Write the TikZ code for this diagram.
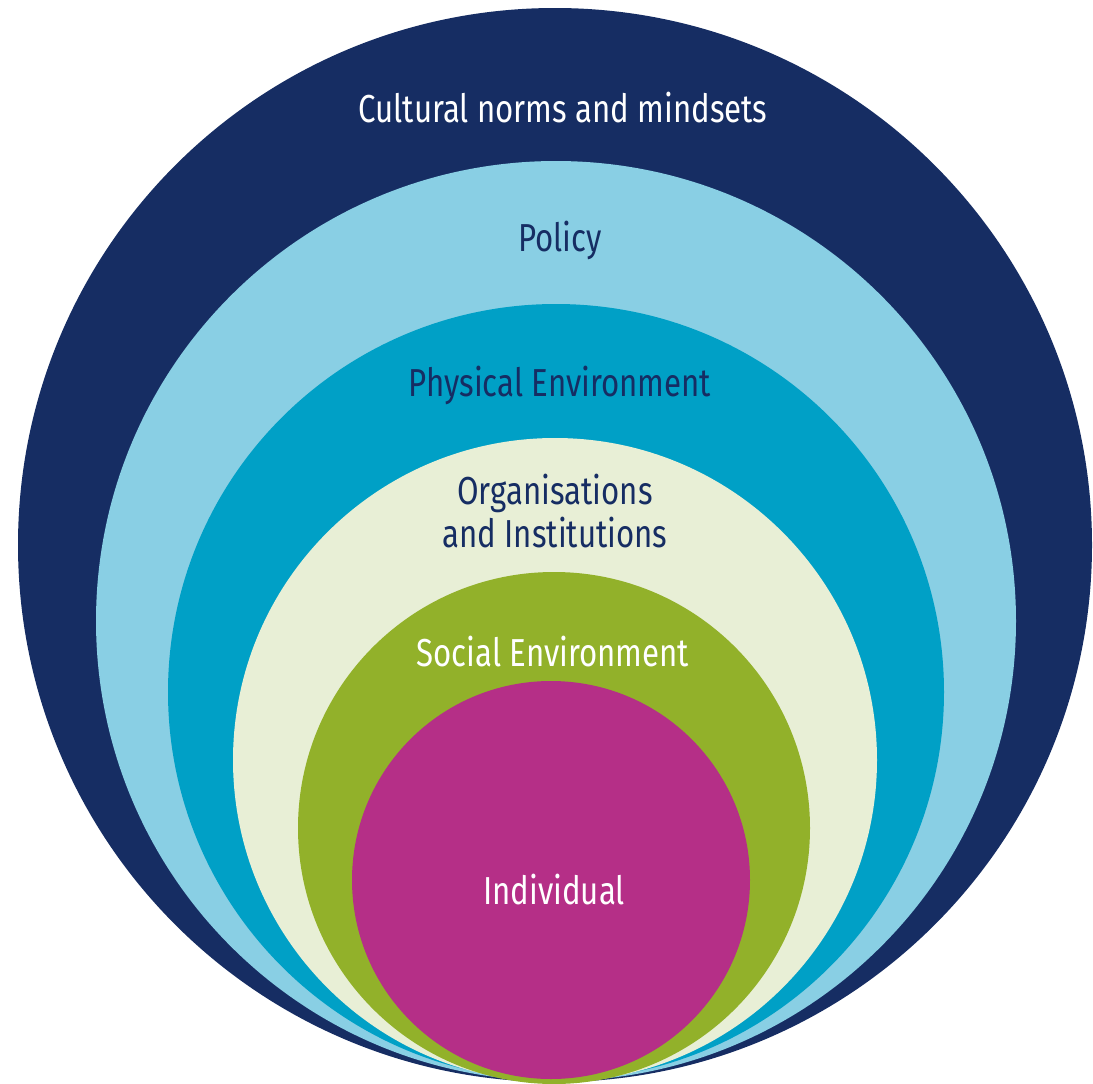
\documentclass[tikz,border=0pt]{standalone}
\usepackage{fontspec}
\setmainfont[FakeStretch=0.8]{Fira Sans}
\definecolor{cnavy}{HTML}{162D63}
\definecolor{clight}{HTML}{89CFE4}
\definecolor{cteal}{HTML}{00A0C6}
\definecolor{ccream}{HTML}{E8EFD6}
\definecolor{cgreen}{HTML}{92B12A}
\definecolor{cmag}{HTML}{B52F87}
\tikzset{
  ring/.style={circle, inner sep=0pt, draw=none},
  lbl/.style={font=\fontsize{39}{43}\selectfont, align=center, inner sep=0pt},
}
\begin{document}
\begin{tikzpicture}[x=1pt,y=-1pt]
\useasboundingbox (0,0) rectangle (1093,1084);
\node[ring, fill=cnavy, minimum size=1074] (c1) at (555,545) {};
\node[ring, fill=clight, minimum size=920] (c2) at (556,621) {};
\node[ring, fill=cteal, minimum size=776] (c3) at (556,692) {};
\node[ring, fill=ccream, minimum size=644] (c4) at (555,760) {};
\node[ring, fill=cgreen, minimum size=512] (c5) at (554,828) {};
\node[ring, fill=cmag, minimum size=398] (c6) at (551,880) {};
\node[lbl, text=white] (t1) at (563,108) {Cultural norms and mindsets};
\node[lbl, text=cnavy] (t2) at (560,240) {Policy};
\node[lbl, text=cnavy] (t3) at (560,385) {Physical Environment};
\node[lbl, text=cnavy] (t4) at (555,511) {Organisations\\and Institutions};
\node[lbl, text=white] (t5) at (553,652) {Social Environment};
\node[lbl, text=white] (t6) at (554,890) {Individual};
\end{tikzpicture}
\end{document}
